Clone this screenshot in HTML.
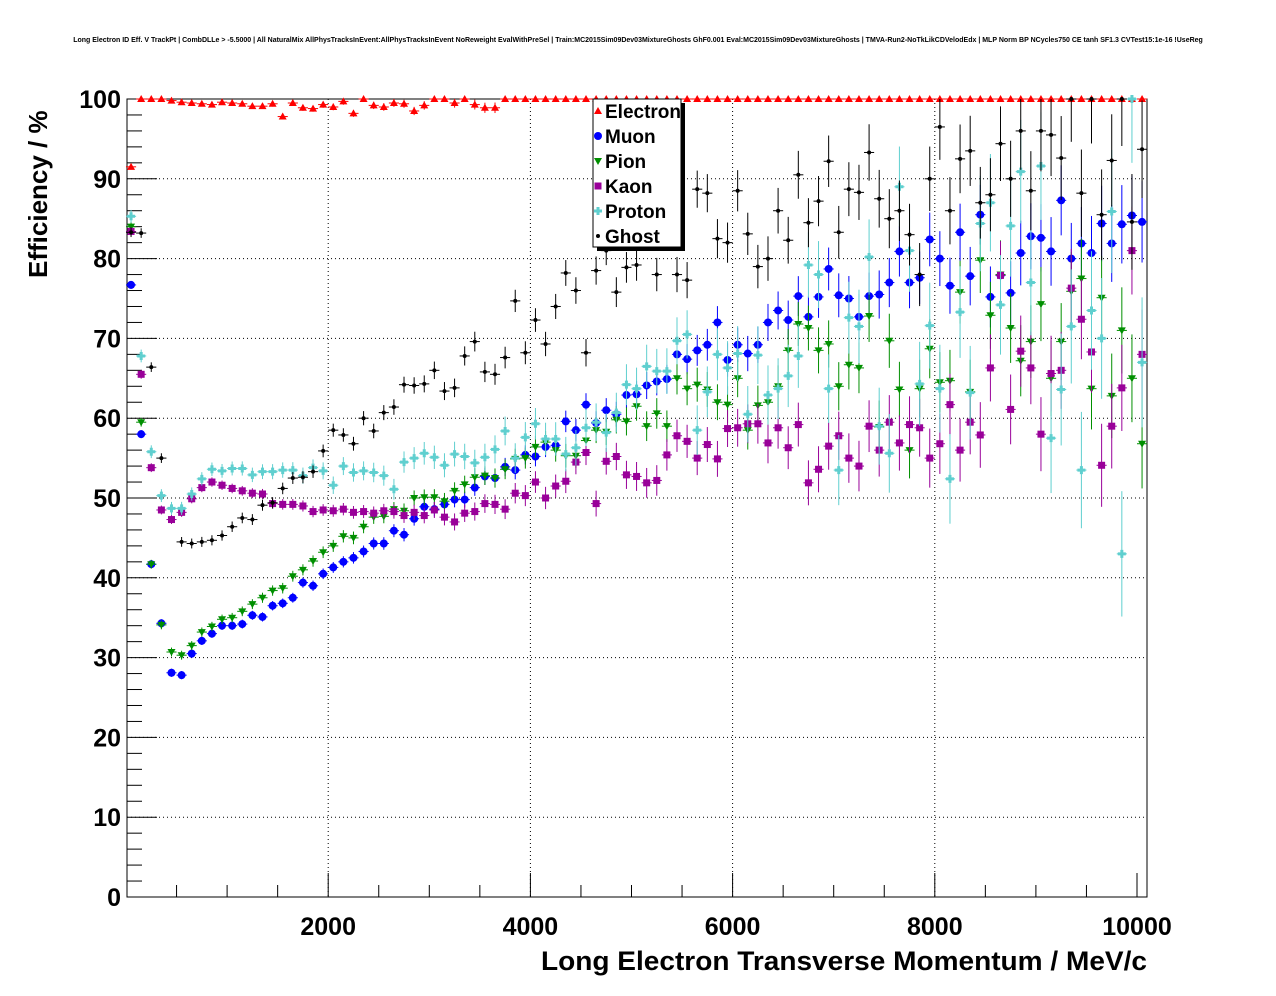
<!DOCTYPE html>
<html><head><meta charset="utf-8"><style>
body{margin:0;background:#fff;}
svg{display:block;font-family:"Liberation Sans",sans-serif;}
</style></head><body>
<svg id="chart" width="1276" height="996" viewBox="0 0 1276 996">
<rect width="1276" height="996" fill="#fff"/>
<text x="638" y="42" font-size="7" font-weight="bold" text-anchor="middle">Long Electron ID Eff. V TrackPt | CombDLLe &gt; -5.5000 | All NaturalMix AllPhysTracksInEvent:AllPhysTracksInEvent NoReweight EvalWithPreSel | Train:MC2015Sim09Dev03MixtureGhosts GhF0.001 Eval:MC2015Sim09Dev03MixtureGhosts | TMVA-Run2-NoTkLikCDVelodEdx | MLP Norm BP NCycles750 CE tanh SF1.3 CVTest15:1e-16 !UseReg</text>
<g id="grid"></g>
<g id="axes"></g>
<g id="marks"></g>
<text transform="translate(47,278) rotate(-90)" font-size="26" font-weight="bold">Efficiency / %</text>
<text x="541" y="970" font-size="27" font-weight="bold" textLength="606" lengthAdjust="spacingAndGlyphs">Long Electron Transverse Momentum / MeV/c</text>
<g>
<rect x="597" y="103" width="88" height="148" fill="#000"/>
<rect x="593" y="99" width="88" height="148" fill="#fff" stroke="#000" stroke-width="1"/>
<g id="legend-items"></g>
</g>
</svg>
<script>
const categories=[];for(let i=0;i<101;i++)categories.push(50+100*i);
const xTicks=[2000,4000,6000,8000,10000];
const yTicks=[0,10,20,30,40,50,60,70,80,90,100];
const seriesNames=["Electron","Muon","Pion","Kaon","Proton","Ghost"];
const electron=[91.5,100,100,100,99.8,99.6,99.5,99.4,99.3,99.6,99.5,99.4,99.1,99.1,99.4,97.8,99.5,98.9,98.8,99.3,99.0,99.7,98.2,100,99.2,99.0,99.5,99.4,98.5,99.2,100,100,99.5,100,99.3,98.9,98.9,100,100,100,100,100,100,100,100,100,100,100,100,100,100,100,100,100,100,100,100,100,100,100,100,100,100,100,100,100,100,100,100,100,100,100,100,100,100,100,100,100,100,100,100,100,100,100,100,100,100,100,100,100,100,100,100,100,100,100,100,100,100,100,100];
const muon=[76.7,58,41.7,34.3,28.1,27.8,30.5,32.1,33,34,34,34.2,35.3,35.1,36.5,36.8,37.5,39.4,39,40.5,41.3,42,42.5,43.3,44.3,44.3,45.9,45.4,47.4,48.9,48.6,49.2,49.8,49.8,51.3,52.7,52.5,53.9,53.5,55.4,55.2,56.4,56.6,59.6,58.5,61.7,59.4,61,60.5,62.9,63,64.1,64.6,64.9,68,67.4,68.5,69.2,72,67.3,69.2,68.1,69.2,72,73.5,72.3,75.3,72.7,75.2,78.7,75.4,75,72.7,75.3,75.5,77,80.9,77,77.6,82.4,80,76.6,83.3,77.8,85.5,75.2,77.9,75.7,80.7,82.8,82.6,80.9,87.3,80,81.9,80.7,84.4,81.9,84.3,85.4,84.6];
const pion=[84,59.5,41.7,34.1,30.7,30.3,31.5,33.2,33.9,34.8,35,35.8,36.7,37.5,38.4,38.7,40.2,41,42.1,43.2,44,45.2,45,46.4,47.6,47.7,48.6,48.4,50,50.1,50.1,49.6,50.9,51.7,52.6,52.8,52.5,53.6,54.9,55,56.4,57,56,55.3,55.3,57.2,58.5,58.3,59.8,59.6,61.5,59,60.6,59,65,63.7,64.2,63.6,62,61.7,65,58.5,61.6,62,64,68.5,71.8,71.3,68.5,69.3,64,66.7,66.3,72.8,58.9,69.7,63.6,56,63.7,68.7,64.5,64.7,75.8,63.3,79.8,72.9,78,71.3,67.2,69.6,74.3,65,69.6,75.9,77.5,63.7,75.1,62.8,71,65,56.8];
const kaon=[83.4,65.5,53.8,48.5,47.3,48.2,49.9,51.3,52,51.6,51.2,50.9,50.6,50.5,49.3,49.2,49.2,49,48.3,48.5,48.4,48.6,48.2,48.3,48.1,48.4,48.3,47.8,48.2,47.8,48.5,47.6,47,48.1,48.3,49.3,49.2,48.6,50.6,50.3,52,50,51.5,52.1,54.5,55.7,49.3,54.6,55.2,52.9,52.7,51.9,52.2,55.4,57.8,57.1,55,56.7,54.9,58.7,58.8,59.3,59.3,56.9,58.8,56.3,59.2,51.9,53.6,56.5,57.8,55,54,59,56,59.5,56.9,59.2,58.8,55,56.8,61.7,56,59.5,57.9,66.3,77.9,61.1,68.4,66.3,58,65.6,66,76.3,72.4,68.3,54.1,59,63.8,81,68];
const proton=[85.3,67.8,55.8,50.3,48.7,48.7,50.5,52.4,53.6,53.4,53.7,53.7,52.9,53.3,53.3,53.5,53.5,52.8,53.8,53.4,51.6,54,53.2,53.4,53.2,52.8,51.1,54.5,55,55.6,55.1,54.1,55.5,55.2,54.4,55.1,56.1,58.4,55,57.6,59.3,57.4,57.4,55.5,56.3,58.8,59.5,58.2,60.7,64.2,63.7,66.5,65.9,65.9,69.7,70.5,58.5,63.3,68,66.3,68.1,60.5,67.9,62.9,63.7,65.3,67.8,79.2,78,63.7,53.5,72.6,71.5,80.2,59,55.6,89,81,64.3,71.6,63.7,52.4,73.3,63.2,84.4,87,74.2,84.1,90.9,77,91.6,57.5,63.6,71.5,53.5,73.5,70,85.9,43,100,67];
const ghost=[83.3,83.2,66.4,55,null,44.5,44.3,44.5,44.7,45.3,46.4,47.5,47.3,49.1,49.4,51.2,52.5,52.6,53.3,55.9,58.5,57.9,56.8,60,58.4,60.7,61.4,64.2,64.1,64.3,66,63.4,63.8,67.8,69.6,65.8,65.5,67.6,74.7,68.2,72.3,69.3,74,78.2,76,68.2,78.5,81,75.8,78.9,79.2,84,78,84,78,77.3,88.7,88.2,82.5,82,88.5,83.1,79,80,86,82.3,90.5,84.5,87.2,92.2,83.3,88.7,88.3,93.3,87.5,85,86,83,78,90,96.5,86,92.5,93.5,87,88,94.4,90,96,88.5,96,95.5,92.6,100,88.2,100,85.5,92.3,100,84.6,93.7];
const seriesErrBase=[0.3,0.5,0.55,0.55,0.8,0.6];
const colors=["#ff0000","#0000ff","#008f00","#990099","#5fcfcf","#000000"];

const X0=126,XS=1011/10000,Y0=897,YS=7.98,XL=127,XR=1147,YT=99;
const xs=v=>X0+v*XS, ys=v=>Y0-v*YS;
const NS="http://www.w3.org/2000/svg";
function mk(tag,attrs,parent){const e=document.createElementNS(NS,tag);for(const k in attrs)e.setAttribute(k,attrs[k]);parent.appendChild(e);return e;}
const grid=document.getElementById('grid'),axes=document.getElementById('axes'),marks=document.getElementById('marks');
xTicks.forEach(t=>{if(t<10000){const g=mk('line',{x1:xs(t),x2:xs(t),y1:YT,y2:Y0,stroke:'#000','stroke-dasharray':'1,3','stroke-width':1},grid);

}});
yTicks.forEach(t=>{if(t>0&&t<100){const g=mk('line',{x1:XL,x2:XR,y1:ys(t),y2:ys(t),stroke:'#000','stroke-dasharray':'1,3','stroke-width':1},grid);

}});
const fr=mk('rect',{x:XL,y:YT,width:XR-XL,height:Y0-YT,fill:'none',stroke:'#000','stroke-width':1},axes);


for(let v=0;v<=100;v+=2){const L=v%10===0?30:15;mk('line',{x1:XL,x2:XL+L,y1:ys(v),y2:ys(v),stroke:'#000'},axes);}
for(let v=500;v<=10000;v+=500){const L=v%2000===0?24:12;mk('line',{x1:xs(v),x2:xs(v),y1:Y0,y2:Y0-L,stroke:'#000'},axes);}
yTicks.forEach(t=>{const tx=mk('text',{x:121,y:ys(t)+9,'font-size':25,'font-weight':'bold','text-anchor':'end'},axes);tx.textContent=t;

});
xTicks.forEach(t=>{const tx=mk('text',{x:xs(t),y:935,'font-size':25,'font-weight':'bold','text-anchor':'middle'},axes);tx.textContent=t;

});

function marker(kind,cx,cy,col,parent){
 if(kind===0) return mk('polygon',{points:`${cx},${cy-4} ${cx-4},${cy+3} ${cx+4},${cy+3}`,fill:col},parent);
 if(kind===1) return mk('circle',{cx:cx,cy:cy,r:4,fill:col},parent);
 if(kind===2) return mk('polygon',{points:`${cx-4},${cy-3} ${cx+4},${cy-3} ${cx},${cy+4}`,fill:col},parent);
 if(kind===3) return mk('rect',{x:cx-3.5,y:cy-3.5,width:7,height:7,fill:col},parent);
 if(kind===4) return mk('path',{d:`M${cx-4} ${cy}H${cx+4}M${cx} ${cy-4}V${cy+4}`,stroke:col,'stroke-width':3},parent);
 return mk('circle',{cx:cx,cy:cy,r:2,fill:col},parent);
}
const allSeries=[electron,muon,pion,kaon,proton,ghost];
allSeries.forEach((arr,s)=>{
 const g=mk('g',{},marks);
 
 
 arr.forEach((v,i)=>{
  if(v===null||v===undefined)return;
  const x=categories[i];const cx=xs(x),cy=ys(v);
  const e=seriesErrBase[s]*(1+Math.pow(i/33,2));
  const eu=Math.min(e,100-v),ed=e;
  mk('line',{x1:xs(x-50),x2:xs(x+50),y1:cy,y2:cy,stroke:colors[s],'stroke-width':1},g);
  if(v<100||s!==0) mk('line',{x1:cx,x2:cx,y1:ys(v+eu),y2:ys(v-ed),stroke:colors[s],'stroke-width':1},g);
  const m=marker(s,cx,cy,colors[s],g);
  
  
 });
});
const li=document.getElementById('legend-items');
seriesNames.forEach((n,k)=>{
 const y=111+25*k;
 const m=marker(k,598,y,colors[k],li);
 
 
 const t=mk('text',{x:605,y:y+7,'font-size':19,'font-weight':'bold'},li);t.textContent=n;
 
 
});
</script>
</body></html>
